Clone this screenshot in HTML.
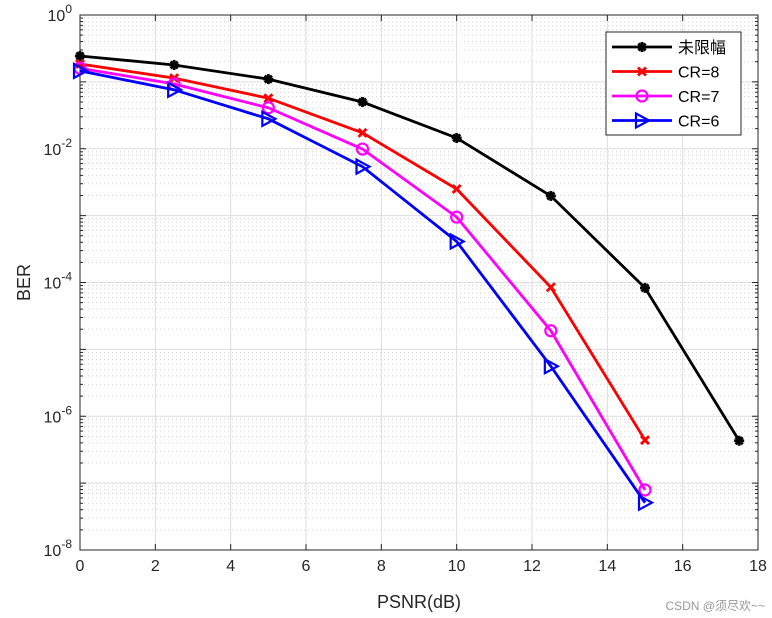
<!DOCTYPE html>
<html><head><meta charset="utf-8"><style>body{margin:0;background:#fff}svg{display:block;font-family:"Liberation Sans","Noto Sans CJK SC",sans-serif}</style></head>
<body>
<svg id="c" width="772" height="618"></svg>
<script>
const xs=[0,2.5,5,7.5,10,12.5,15,17.5];
const s0=[0.244,0.179,0.110,0.050,0.0145,0.00197,8.3e-5,4.3e-7];
const s1=[0.185,0.114,0.057,0.0173,0.0025,8.5e-5,4.4e-7];
const s2=[0.16,0.093,0.041,0.0099,9.5e-4,1.9e-5,7.9e-8];
const s3=[0.146,0.076,0.028,0.0054,4.1e-4,5.6e-6,5.1e-8];
const names=["未限幅","CR=8","CR=7","CR=6"];
const xTicks=[0,2,4,6,8,10,12,14,16,18];
const yExp=[0,-2,-4,-6,-8];
const L=80,R=758,T=15,B=550;
const X=v=>L+v/18*(R-L);
const Y=v=>T+(-Math.log10(v))/8*(B-T);
const svg=document.getElementById('c');const NS='http://www.w3.org/2000/svg';
function el(t,a,p){const e=document.createElementNS(NS,t);for(const k in a)e.setAttribute(k,a[k]);(p||svg).appendChild(e);return e;}
const g=el('g',{});


for(let d=0;d<8;d++)for(let m=2;m<=9;m++){const y=Y(m*Math.pow(10,-d-1));el('line',{x1:L,x2:R,y1:y,y2:y,stroke:'#ccc','stroke-width':0.8,'stroke-dasharray':'1,3'},g);}
for(const t of xTicks)el('line',{x1:X(t),x2:X(t),y1:T,y2:B,stroke:'#ddd','stroke-width':1},g);
for(let d=0;d<=8;d++){el('line',{x1:L,x2:R,y1:Y(Math.pow(10,-d)),y2:Y(Math.pow(10,-d)),stroke:'#ddd','stroke-width':1},g);}
el('rect',{x:L,y:T,width:R-L,height:B-T,fill:'none',stroke:'#262626','stroke-width':1});
for(const t of xTicks){el('line',{x1:X(t),x2:X(t),y1:B,y2:B-6,stroke:'#262626'});el('line',{x1:X(t),x2:X(t),y1:T,y2:T+6,stroke:'#262626'});
const tx=el('text',{x:X(t),y:B+21,'text-anchor':'middle','font-size':16,fill:'#262626'});tx.textContent=t;

}
for(let d=0;d<8;d++)for(let m=1;m<=9;m++){const y=Y(m*Math.pow(10,-d-1));const w=m===1?6:3;el('line',{x1:L,x2:L+w,y1:y,y2:y,stroke:'#262626'});el('line',{x1:R,x2:R-w,y1:y,y2:y,stroke:'#262626'});}
for(const e of yExp){const tx=el('text',{x:L-8,y:Y(Math.pow(10,e))+6,'text-anchor':'end','font-size':16,fill:'#262626'});tx.innerHTML='10<tspan dy="-8" font-size="12">'+e+'</tspan>';

}
const xl=el('text',{x:(L+R)/2,y:608,'text-anchor':'middle','font-size':18,fill:'#262626'});xl.textContent='PSNR(dB)';


const yl=el('text',{x:0,y:0,'text-anchor':'middle','font-size':18,fill:'#262626',transform:`translate(30,${(T+B)/2}) rotate(-90)`});yl.textContent='BER';


const cols=['#000','#f00','#f0f','#00f'];
function marker(type,x,y,c,p){
 if(type===0){for(let a=0;a<4;a++){const r=a*Math.PI/4;el('line',{x1:x-5*Math.cos(r),y1:y-5*Math.sin(r),x2:x+5*Math.cos(r),y2:y+5*Math.sin(r),stroke:c,'stroke-width':2.8},p);}}
 else if(type===1){el('path',{d:`M${x-4},${y-4}L${x+4},${y+4}M${x-4},${y+4}L${x+4},${y-4}`,stroke:c,'stroke-width':2.8,fill:'none'},p);}
 else if(type===2){el('circle',{cx:x,cy:y,r:5.5,stroke:c,'stroke-width':2.2,fill:'none'},p);}
 else {el('path',{d:`M${x-6},${y-7}L${x+7},${y}L${x-6},${y+7}Z`,stroke:c,'stroke-width':2.2,fill:'none'},p);}
}
[s0,s1,s2,s3].forEach((s,i)=>{const gg=el('g',{});


el('polyline',{points:s.map((v,j)=>X(xs[j])+','+Y(v)).join(' '),fill:'none',stroke:cols[i],'stroke-width':2.8},gg);
s.forEach((v,j)=>marker(i,X(xs[j]),Y(v),cols[i],gg));});
const lg=el('g',{});


el('rect',{x:606,y:32,width:135,height:103,fill:'#fff',stroke:'#262626','stroke-width':1},lg);
names.forEach((n,i)=>{const y=47+i*24.5;el('line',{x1:612,x2:672,y1:y,y2:y,stroke:cols[i],'stroke-width':2.8},lg);marker(i,642,y,cols[i],lg);
const t=el('text',{x:678,y:y+6,'font-size':16,fill:'#000'},lg);t.textContent=n;

});
const wm=el('text',{x:765,y:610,'text-anchor':'end','font-size':12,fill:'#999'});wm.textContent='CSDN @须尽欢~~';


</script>
</body></html>
